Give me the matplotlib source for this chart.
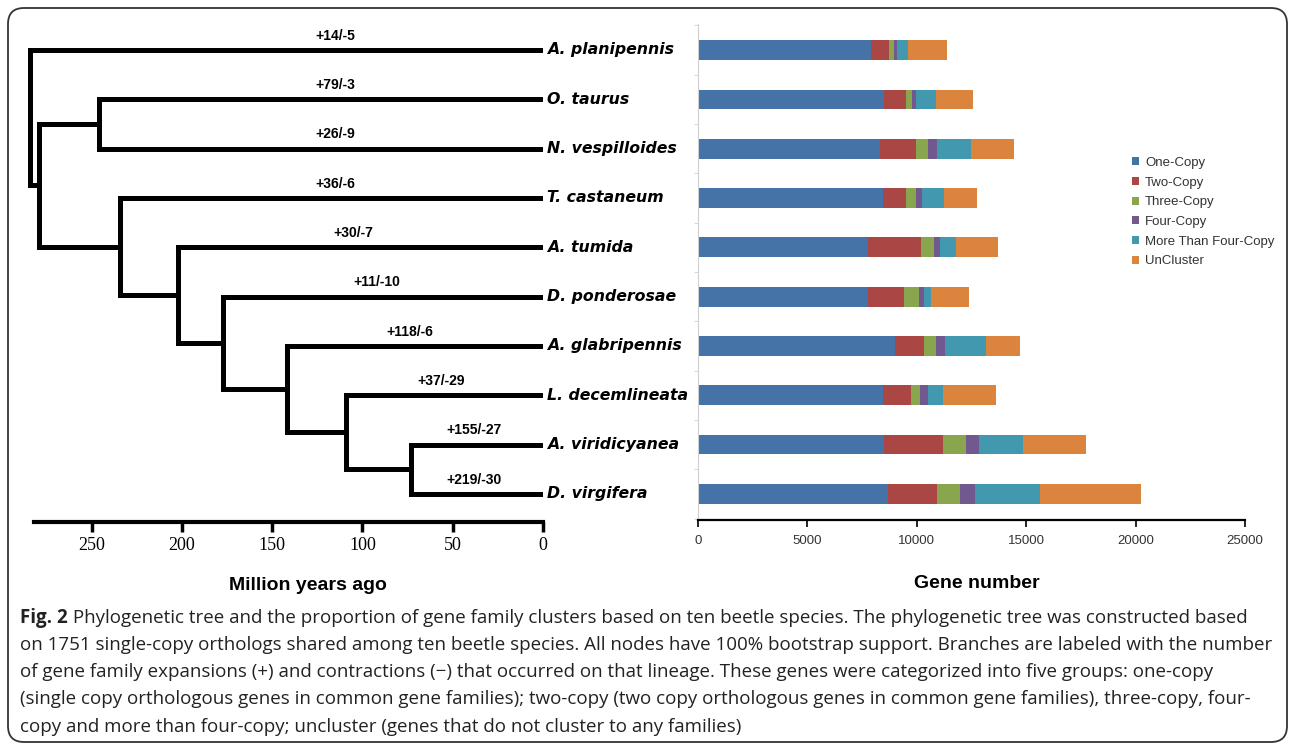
import numpy as np
import matplotlib
matplotlib.use("Agg")
import matplotlib.pyplot as plt
from matplotlib.patches import FancyBboxPatch

# ---- data ----
species = ["A. planipennis", "O. taurus", "N. vespilloides", "T. castaneum", "A. tumida",
           "D. ponderosae", "A. glabripennis", "L. decemlineata", "A. viridicyanea", "D. virgifera"]
branch_labels = ["+14/-5", "+79/-3", "+26/-9", "+36/-6", "+30/-7",
                 "+11/-10", "+118/-6", "+37/-29", "+155/-27", "+219/-30"]

# internal nodes: name, age (Mya), child 1, child 2
nodes = [
    ("root", 284, "A. planipennis", "n1"),
    ("n1", 279, "n2", "n3"),
    ("n2", 246, "O. taurus", "N. vespilloides"),
    ("n3", 234, "T. castaneum", "n4"),
    ("n4", 202, "A. tumida", "n5"),
    ("n5", 177, "D. ponderosae", "n6"),
    ("n6", 142, "A. glabripennis", "n7"),
    ("n7", 109, "L. decemlineata", "n8"),
    ("n8", 73, "A. viridicyanea", "D. virgifera"),
]
age_ticks = [250, 200, 150, 100, 50, 0]

categories = ["One-Copy", "Two-Copy", "Three-Copy", "Four-Copy", "More Than Four-Copy", "UnCluster"]
one_copy = [7900, 8490, 8330, 8470, 7760, 7770, 9015, 8440, 8490, 8665]
two_copy = [840, 1000, 1650, 1015, 2450, 1645, 1330, 1280, 2695, 2260]
three_copy = [210, 300, 525, 470, 595, 665, 540, 420, 1085, 1050]
four_copy = [140, 175, 420, 265, 245, 265, 385, 350, 595, 685]
more_copy = [490, 930, 1540, 1015, 735, 315, 1890, 715, 1995, 2960]
uncluster = [1820, 1680, 2000, 1525, 1910, 1735, 1575, 2435, 2870, 4620]
gene_ticks = [0, 5000, 10000, 15000, 20000, 25000]
colors = ["#4572A7", "#AA4643", "#89A54E", "#71588F", "#4198AF", "#DB843D"]

caption_bold = "Fig. 2"
caption_lines = [
    "Phylogenetic tree and the proportion of gene family clusters based on ten beetle species. The phylogenetic tree was constructed based",
    "on 1751 single-copy orthologs shared among ten beetle species. All nodes have 100% bootstrap support. Branches are labeled with the number",
    "of gene family expansions (+) and contractions (\u2212) that occurred on that lineage. These genes were categorized into five groups: one-copy",
    "(single copy orthologous genes in common gene families); two-copy (two copy orthologous genes in common gene families), three-copy, four-",
    "copy and more than four-copy; uncluster (genes that do not cluster to any families)",
]

W, H = 1293, 747
fig = plt.figure(figsize=(W / 100, H / 100), dpi=100)


def px_axes(l, t, r, b):
    return fig.add_axes([l / W, 1 - b / H, (r - l) / W, (b - t) / H])


# rounded frame
fig.patches.append(FancyBboxPatch((0.08, 0.05), 12.79, 7.34,
                                  boxstyle="round,pad=0,rounding_size=0.16",
                                  transform=fig.dpi_scale_trans, fill=False,
                                  edgecolor="#333333", lw=1.3))

# ---- tree ----
ax = px_axes(19.3, 20.4, 543, 522)
ypos = {name: i for i, name in enumerate(species)}
age = {name: 0.0 for name in species}
parent_age = {}
for name, a, c1, c2 in reversed(nodes):
    ypos[name] = (ypos[c1] + ypos[c2]) / 2
    age[name] = a
    parent_age[c1] = a
    parent_age[c2] = a

tree_kw = dict(color="black", lw=3.6, solid_capstyle="projecting")
for name, a, c1, c2 in nodes:
    ax.plot([a, a], [ypos[c1], ypos[c2]], **tree_kw)
    for c in (c1, c2):
        ax.plot([a, age[c]], [ypos[c], ypos[c]], **tree_kw)

for i, sp in enumerate(species):
    ax.annotate(sp, xy=(0, i), xytext=(3, 0), textcoords="offset points",
                va="center", ha="left", fontsize=11.3, fontweight="bold",
                fontstyle="italic", family="DejaVu Sans", annotation_clip=False)
    lx = min(parent_age[sp] * 0.52, 115)
    ax.text(lx, i - 0.29, branch_labels[i], ha="center", va="center",
            fontsize=10, fontweight="bold", family="Liberation Sans")

ax.set_xlim(290, 0)
ax.set_ylim(9.57, -0.6)
for s in ["left", "right", "top"]:
    ax.spines[s].set_visible(False)
ax.spines["bottom"].set_bounds(0, 282)
ax.spines["bottom"].set_linewidth(3)
ax.set_yticks([])
ax.set_xticks(age_ticks)
ax.tick_params(axis="x", direction="out", length=7, width=2.5, pad=4, labelsize=13)
for t in ax.get_xticklabels():
    t.set_family("Liberation Serif")

# ---- stacked bars ----
axb = px_axes(698, 24, 1245, 520)
series = [one_copy, two_copy, three_copy, four_copy, more_copy, uncluster]
y = np.arange(len(species))
left = np.zeros(len(species))
for vals, lab, col in zip(series, categories, colors):
    axb.barh(y, vals, left=left, height=0.4, color=col, label=lab)
    left += np.array(vals)

axb.set_xlim(0, 25000)
axb.set_ylim(9.53, -0.53)
axb.set_xticks(gene_ticks)
axb.set_yticks([])
axb.set_yticks(np.arange(-0.5, 10, 1), minor=True)
axb.tick_params(axis="y", which="minor", length=3, color="#d0d0d0", labelleft=False)
axb.tick_params(axis="x", direction="out", length=5, width=1.2, pad=6,
                labelsize=9.5, labelcolor="#333333")
for t in axb.get_xticklabels():
    t.set_family("Liberation Sans")
axb.spines["top"].set_visible(False)
axb.spines["right"].set_visible(False)
axb.spines["left"].set_color("#d0d0d0")
axb.spines["left"].set_linewidth(0.8)
axb.spines["bottom"].set_linewidth(1.6)

fig.legend(loc="upper left", bbox_to_anchor=(1132 / W, 1 - 157 / H), frameon=False,
           prop={"family": "Liberation Sans", "size": 9.5}, labelcolor="#333333",
           handlelength=0.55, handleheight=0.55, handletextpad=0.45,
           labelspacing=0.58, borderpad=0, borderaxespad=0)

# axis titles
fig.text(308 / W, 1 - 585 / H, "Million years ago", ha="center", va="center",
         fontsize=14, fontweight="bold", family="Liberation Sans")
fig.text(977 / W, 1 - 584 / H, "Gene number", ha="center", va="center",
         fontsize=14, fontweight="bold", family="Liberation Sans")

# ---- caption ----
cap_kw = dict(family=["Open Sans", "DejaVu Sans"], color="#222222")
cap_size = 12
line_y = [623, 650, 677, 704, 732]   # baselines, px from top
bold = fig.text(20 / W, 1 - line_y[0] / H, caption_bold, ha="left", va="baseline",
                fontsize=cap_size, fontweight="bold", **cap_kw)
first = fig.text(20 / W, 1 - line_y[0] / H, " " + caption_lines[0], ha="left",
                 va="baseline", fontsize=cap_size, **cap_kw)
others = [fig.text(20 / W, 1 - ly / H, line, ha="left", va="baseline",
                   fontsize=cap_size, **cap_kw)
          for ly, line in zip(line_y[1:], caption_lines[1:])]
cap_texts = [bold, first] + others

# fit the widest caption line inside the frame
fig.canvas.draw()
r = fig.canvas.get_renderer()
widths = [bold.get_window_extent(r).width + first.get_window_extent(r).width]
widths += [t.get_window_extent(r).width for t in others]
scale = (1264 - 20) / max(widths)
for t in cap_texts:
    t.set_fontsize(cap_size * scale)
fig.canvas.draw()
bb = bold.get_window_extent(r)
first.set_position((bb.x1 / W, 1 - line_y[0] / H))

fig.savefig("out.png", dpi=100)
